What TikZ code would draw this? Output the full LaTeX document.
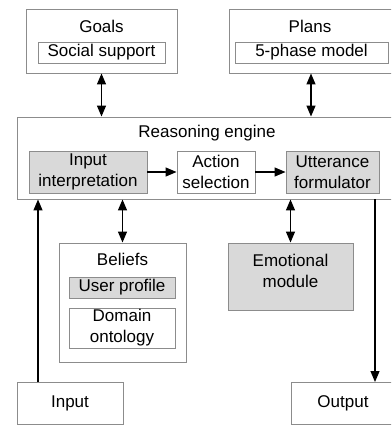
\documentclass[tikz,border=0pt]{standalone}
\usepackage{fontspec}
\setmainfont{Liberation Sans}
\usetikzlibrary{arrows.meta,positioning}

\begin{document}
\begin{tikzpicture}[x=1pt,y=-1pt,
  box/.style={draw=gray!90,line width=0.9pt,inner sep=0pt,align=center},
  shaded/.style={box,fill=gray!30},
  lbl/.style={inner sep=0pt,align=center},
  arr/.style={line width=1.2pt,-{Triangle[length=11pt,width=9pt]}},
  dblarr/.style={line width=1.2pt,{Triangle[length=11pt,width=9pt]}-{Triangle[length=11pt,width=9pt]}},
  every node/.style={font=\fontsize{17}{21}\selectfont}]
\clip (0,0) rectangle (391,425);
\fill[white] (0,0) rectangle (391,425);
% knowledge sources
\node[box,minimum width=151pt,minimum height=64pt](G) at (101.5,41){};
\node[lbl](Gt) at (101.5,26){Goals};
\node[box,minimum width=127pt,minimum height=21pt](SS) at (101.5,52.5){Social support};
\node[box,minimum width=164pt,minimum height=64pt](P) at (311,41){};
\node[lbl](Pt) at (310,26){Plans};
\node[box,minimum width=153pt,minimum height=21pt](PM) at (311.5,52.5){5-phase model};
% reasoning engine
\node[box,minimum width=380pt,minimum height=82pt](R) at (207,158){};
\node[lbl](Rt) at (207,133){Reasoning engine};
\node[shaded,minimum width=118pt,minimum height=42pt](II) at (88,172){Input\\interpretation};
\node[box,minimum width=78pt,minimum height=42pt](AS) at (216,172){Action\\selection};
\node[shaded,minimum width=93pt,minimum height=42pt](UF) at (332.5,172){Utterance\\formulator};
% beliefs and emotions
\node[box,minimum width=127pt,minimum height=119pt](B) at (122.5,302.5){};
\node[lbl](Bt) at (122.5,259){Beliefs};
\node[shaded,minimum width=106pt,minimum height=21pt](UP) at (122,287.5){User profile};
\node[box,minimum width=106pt,minimum height=40pt](DO) at (122,328){Domain\\ontology};
\node[shaded,minimum width=125pt,minimum height=67pt](EM) at (290.5,276.5){};
\node[lbl](EMt) at (290.5,271){Emotional\\module};
% input / output
\node[box,minimum width=106pt,minimum height=42pt](In) at (70,403){Input};
\node[box,minimum width=104pt,minimum height=42pt](Out) at (343,403){Output};
\coordinate(inA) at (38,382);
\coordinate(outA) at (375,382);
% connectors
\draw[dblarr](G.south)--(G.south |- R.north);
\draw[dblarr](P.south)--(P.south |- R.north);
\draw[arr](II)--(AS);
\draw[arr](AS)--(UF);
\draw[dblarr](B.north |- R.south)--(B.north);
\draw[dblarr](EM.north |- R.south)--(EM.north);
\draw[arr](inA)--(inA |- R.south);
\draw[arr](outA |- R.south)--(outA);
\end{tikzpicture}
\end{document}
